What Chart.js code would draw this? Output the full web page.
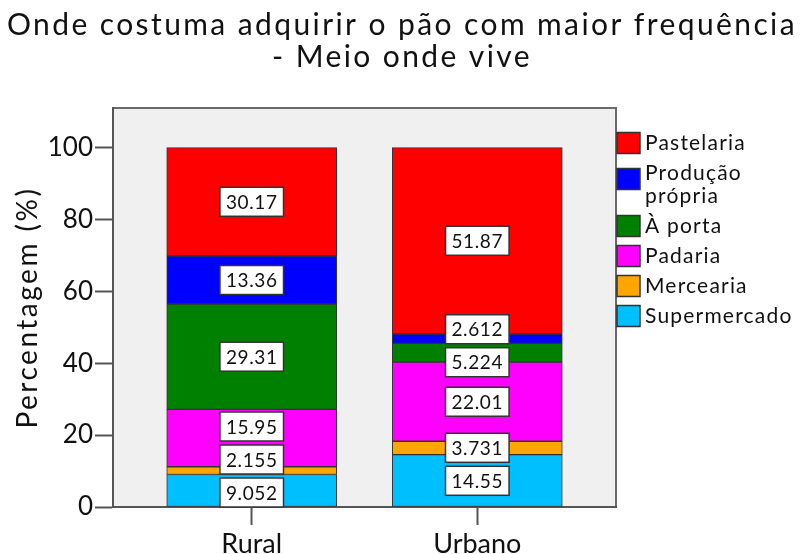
<!DOCTYPE html>
<html>
<head>
<meta charset="utf-8">
<script src="https://cdn.jsdelivr.net/npm/chart.js@4"></script>
<style>
  body { margin: 0; background: #fff; }
  canvas { display: block; }
</style>
</head>
<body>
<canvas id="chart" width="803" height="554"></canvas>
<script>
const categories = ["Rural", "Urbano"];
const seriesNames = ["Supermercado", "Mercearia", "Padaria", "À porta", "Produção própria", "Pastelaria"];
const supermercado = [9.052, 14.55];
const mercearia = [2.155, 3.731];
const padaria = [15.95, 22.01];
const aPorta = [29.31, 5.224];
const producaoPropria = [13.36, 2.612];
const pastelaria = [30.17, 51.87];
const yTicks = [0, 20, 40, 60, 80, 100];
const titleLines = ["Onde costuma adquirir o pão com maior frequência", "- Meio onde vive"];
const yTitle = "Percentagem (%)";

const seriesValues = [supermercado, mercearia, padaria, aPorta, producaoPropria, pastelaria];
const seriesColors = ["#00bfff", "#ffa500", "#ff00ff", "#008000", "#0000ff", "#ff0000"];
const FONT = "Lato";

// grey plot background, frame, title and y axis title
const plotFrame = {
  id: "plotFrame",
  beforeDraw(chart) {
    const { ctx, chartArea: a } = chart;
    ctx.save();
    ctx.fillStyle = "#f0f0f0";
    ctx.fillRect(a.left, a.top, a.right - a.left, a.bottom - a.top);
    ctx.strokeStyle = "#6a6a6a";
    ctx.lineWidth = 2;
    ctx.strokeRect(a.left, a.top, a.right - a.left, a.bottom - a.top);

    ctx.fillStyle = "#111";
    ctx.textAlign = "center";
    ctx.textBaseline = "middle";
    ctx.letterSpacing = "2.4px";
    ctx.font = "30px " + FONT;
    titleLines.forEach((t, k) => ctx.fillText(t, 402, 25 + k * 32));

    ctx.translate(28, (a.top + a.bottom) / 2);
    ctx.rotate(-Math.PI / 2);
    ctx.font = "28px " + FONT;
    ctx.letterSpacing = "2.5px";
    ctx.fillText(yTitle, 0, 0);
    ctx.restore();
  }
};

// boxed value labels, spread apart where segments are thin
const valueLabels = {
  id: "valueLabels",
  afterDatasetsDraw(chart) {
    const ctx = chart.ctx;
    const maxY = chart.chartArea.bottom - 14.5;
    const gap = 33, h = 29;
    ctx.save();
    ctx.font = "19px " + FONT;
    ctx.letterSpacing = "0.6px";
    ctx.textAlign = "center";
    ctx.textBaseline = "middle";
    categories.forEach((c, i) => {
      const items = chart.data.datasets.map((ds, j) => {
        const bar = chart.getDatasetMeta(j).data[i];
        return { x: bar.x, want: (bar.y + bar.base) / 2, text: String(ds.data[i].y) };
      });
      let groups = items.map(it => ({ items: [it] }));
      const place = g => {
        const n = g.items.length;
        let center = g.items.reduce((s, it) => s + it.want, 0) / n;
        if (center + (n - 1) * gap / 2 > maxY) center = maxY - (n - 1) * gap / 2;
        g.items.forEach((it, k) => { it.y = center + ((n - 1) / 2 - k) * gap; });
      };
      groups.forEach(place);
      let merged = true;
      while (merged) {
        merged = false;
        for (let k = 0; k < groups.length - 1; k++) {
          const a = groups[k], b = groups[k + 1];
          const aTop = a.items[a.items.length - 1].y;
          const bBottom = b.items[0].y;
          if (aTop - bBottom < gap) {
            const g = { items: a.items.concat(b.items) };
            place(g);
            groups.splice(k, 2, g);
            merged = true;
            break;
          }
        }
      }
      items.forEach(it => {
        const w = ctx.measureText(it.text).width + 12;
        ctx.fillStyle = "#fff";
        ctx.fillRect(it.x - w / 2, it.y - h / 2, w, h);
        ctx.strokeStyle = "#333";
        ctx.lineWidth = 1.5;
        ctx.strokeRect(it.x - w / 2, it.y - h / 2, w, h);
        ctx.fillStyle = "#111";
        ctx.fillText(it.text, it.x, it.y + 1);
      });
    });
    ctx.restore();
  }
};

// legend to the right, top item = last series
const sideLegend = {
  id: "sideLegend",
  afterDraw(chart) {
    const ctx = chart.ctx;
    const boxX = 617, textX = 645, maxW = 158;
    let y = 143;
    ctx.save();
    ctx.font = "21px " + FONT;
    ctx.letterSpacing = "1.2px";
    ctx.textBaseline = "middle";
    for (let j = seriesNames.length - 1; j >= 0; j--) {
      const words = seriesNames[j].split(" ");
      const lines = [];
      let cur = "";
      words.forEach(wd => {
        const t = cur ? cur + " " + wd : wd;
        if (cur && ctx.measureText(t).width > maxW) { lines.push(cur); cur = wd; } else cur = t;
      });
      lines.push(cur);
      const boxC = y + (lines.length - 1) * 6;
      ctx.fillStyle = seriesColors[j];
      ctx.fillRect(boxX, boxC - 10.5, 23, 21);
      ctx.strokeStyle = "#333";
      ctx.lineWidth = 1.5;
      ctx.strokeRect(boxX, boxC - 10.5, 23, 21);
      ctx.fillStyle = "#111";
      lines.forEach((ln, k) => ctx.fillText(ln, textX, y + k * 23));
      y += (lines.length - 1) * 23 + 30;
    }
    ctx.restore();
  }
};

new Chart(document.getElementById("chart"), {
  type: "bar",
  data: {
    datasets: seriesNames.map((name, j) => ({
      label: name,
      data: seriesValues[j].map((v, i) => ({ x: i, y: v })),
      backgroundColor: seriesColors[j],
      borderColor: "#333",
      borderWidth: 1,
      borderSkipped: false,
      barThickness: 170
    }))
  },
  options: {
    responsive: false,
    animation: false,
    layout: { padding: { left: 0, right: 187, top: 108, bottom: 0 } },
    plugins: {
      legend: { display: false },
      tooltip: { enabled: false },
      title: { display: false }
    },
    scales: {
      x: {
        type: "linear",
        stacked: true,
        offset: false,
        min: -0.615,
        max: 1.615,
        afterBuildTicks: s => { s.ticks = categories.map((c, i) => ({ value: i })); },
        afterFit: s => { s.height = 47; },
        ticks: {
          callback: v => categories[v],
          color: "#111",
          padding: 3,
          font: { family: FONT, size: 27 }
        },
        grid: { offset: false, drawOnChartArea: false, tickLength: 18, color: "#555", tickWidth: 2 },
        border: { display: true, color: "#555", width: 2 }
      },
      y: {
        stacked: true,
        min: 0,
        max: 111,
        afterBuildTicks: s => { s.ticks = yTicks.map(v => ({ value: v })); },
        afterFit: s => { s.width = 113; },
        ticks: {
          color: "#111",
          padding: 2,
          font: { family: FONT, size: 26 }
        },
        grid: { drawOnChartArea: false, tickLength: 18, color: "#555", tickWidth: 2 },
        border: { display: true, color: "#555", width: 2 }
      }
    }
  },
  plugins: [plotFrame, valueLabels, sideLegend]
});
</script>
</body>
</html>
